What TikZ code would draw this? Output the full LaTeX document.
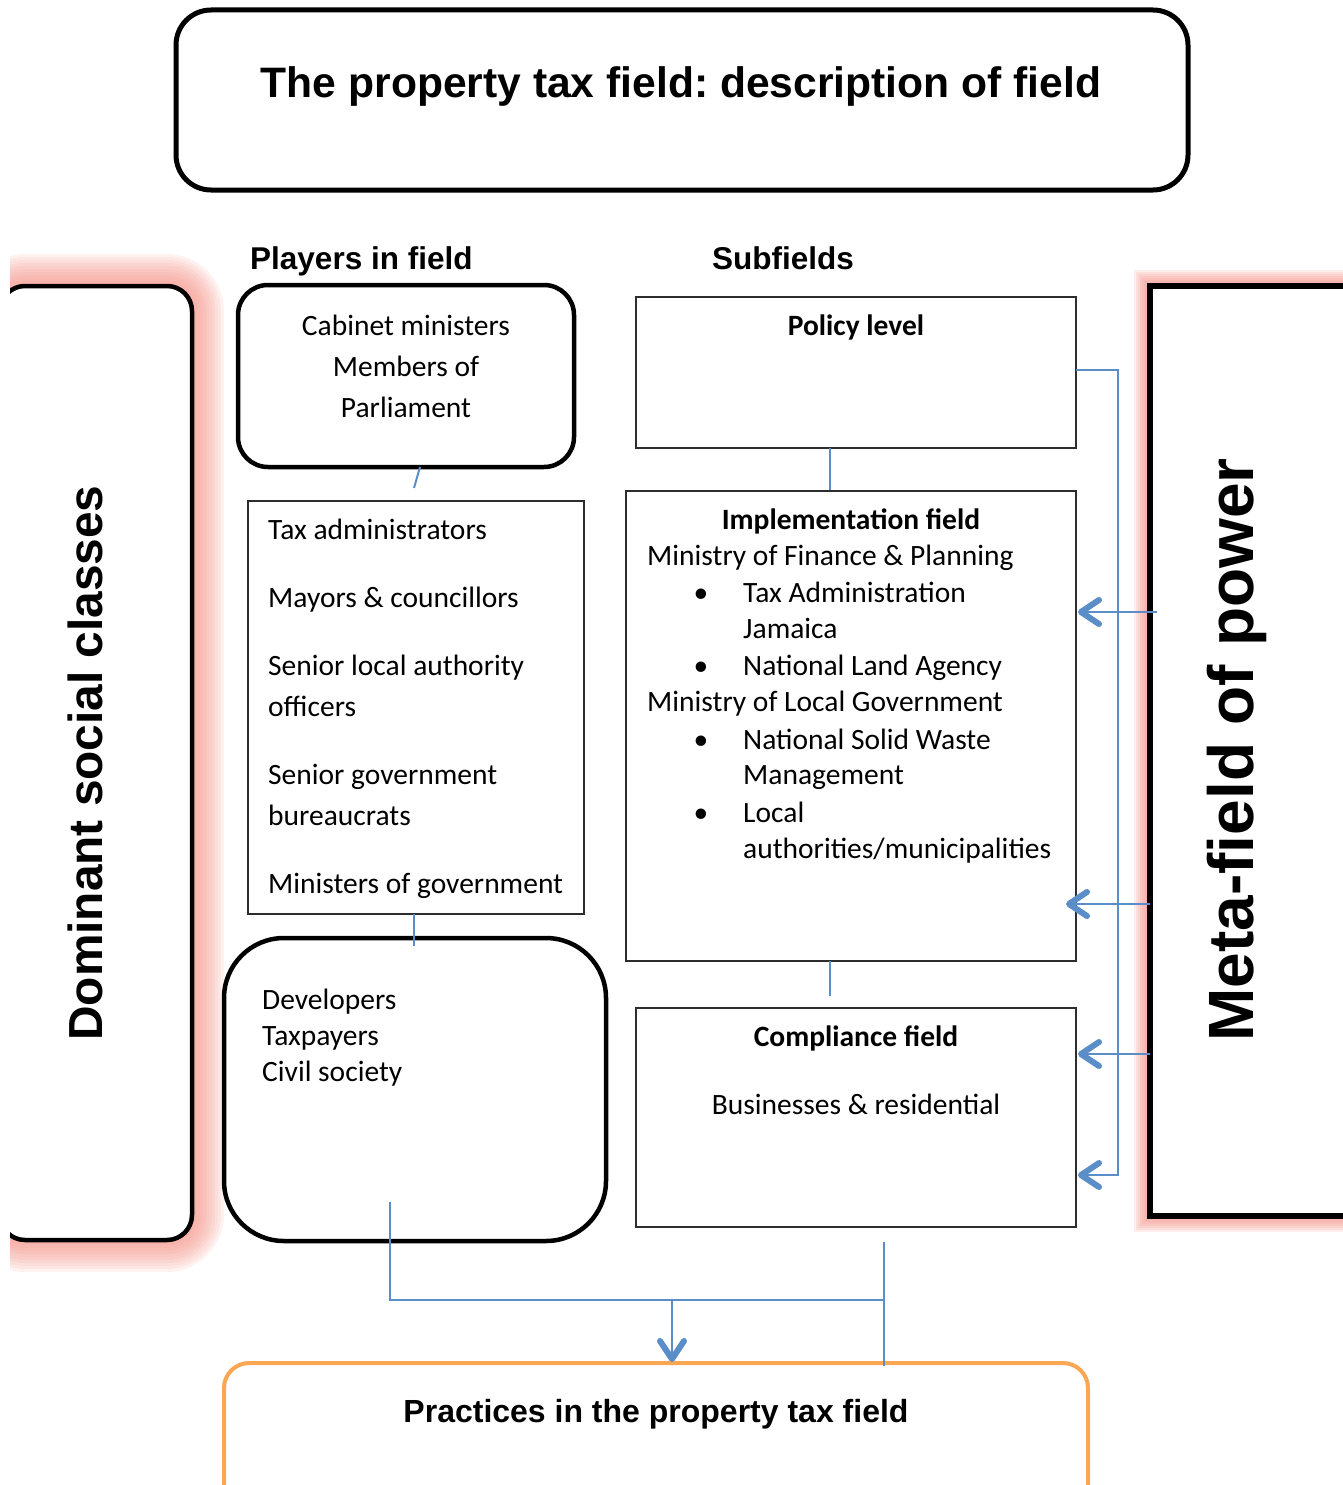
\documentclass[tikz,border=0pt]{standalone}
\usepackage{fontspec}
\setmainfont{Carlito}
\newfontfamily\hd{Liberation Sans}
\usetikzlibrary{arrows.meta}
\definecolor{lnblue}{RGB}{91,141,200}
\definecolor{glowpink}{RGB}{245,151,140}
\definecolor{orangeln}{RGB}{250,166,82}
\definecolor{thinln}{RGB}{45,45,45}
\newcommand\mybody{\fontsize{29.5}{35}\selectfont}
\frenchspacing
\begin{document}
\begin{tikzpicture}[x=1pt,y=-1pt,
  bigbox/.style={draw=black, line width=4.5pt, rounded corners=#1, fill=white, inner sep=0pt},
  bigbox/.default=30pt,
  thinbox/.style={draw=thinln, line width=1.3pt, fill=white, inner sep=0pt},
  body/.style={font=\mybody, inner sep=0pt},
  bodyb/.style={font=\mybody\bfseries, inner sep=0pt},
  head/.style={font=\hd\bfseries\fontsize{31.5}{38}\selectfont, inner sep=0pt},
  conn/.style={draw=lnblue, line width=2pt},
  barbtip/.pic={\draw[lnblue, line width=6pt, line cap=round, line join=round] (-19,-12) -- (-1,0) -- (-19,12);},
  bul/.style={font=\mybody, inner sep=0pt, anchor=base}
]
\useasboundingbox (0,0) rectangle (1343,1485);

% ---------- glows ----------
\begin{scope}
\clip (10,0) rectangle (1343,1485);
\foreach \d in {32,29,...,2}
  \fill[glowpink, opacity=0.12, rounded corners=25pt+\d pt] (0-\d,286-\d) rectangle (192+\d,1240+\d);
\node[bigbox=25pt, minimum width=192pt, minimum height=954pt] (dom) at (96,763) {};
\node[rotate=90, anchor=base, font=\hd\bfseries\fontsize{47.8}{56}\selectfont, inner sep=0pt] (domtxt) at (102,763) {Dominant social classes};
\end{scope}

\foreach \d in {16,14,...,2}
  \fill[glowpink, opacity=0.17] (1150-\d,286-\d) rectangle (1360+\d,1216+\d);
\node[draw=black, line width=6pt, fill=white, minimum width=210pt, minimum height=930pt, inner sep=0pt] (meta) at (1255,751) {};
\node[rotate=90, anchor=base, font=\hd\bfseries\fontsize{64}{72}\selectfont, inner sep=0pt] (metatxt) at (1253,750) {Meta-field of power};

% ---------- title ----------
\node[bigbox=35pt, line width=5pt, minimum width=1012pt, minimum height=180pt] (title) at (682,100) {};
\node[anchor=base, font=\hd\bfseries\fontsize{42.6}{50}\selectfont, inner sep=0pt] (titletxt) at (681,98) {The property tax field: description of field};

% ---------- headers ----------
\node[head, anchor=base west] (playh) at (250,269) {Players in field};
\node[head, anchor=base west] (subh) at (712,269) {Subfields};

% ---------- players column ----------
\node[bigbox=30pt, minimum width=336pt, minimum height=182pt] (cab) at (406,376) {};
\node[body, anchor=base] (cab1) at (406,335) {Cabinet ministers};
\node[body, anchor=base] (cab2) at (406,376) {Members of};
\node[body, anchor=base] (cab3) at (406,417) {Parliament};

\node[thinbox, minimum width=336pt, minimum height=413pt] (play) at (416,707.5) {};
\node[body, anchor=base west] (p1) at (268,539) {Tax administrators};
\node[body, anchor=base west] (p2) at (268,607) {Mayors \& councillors};
\node[body, anchor=base west] (p3) at (268,675) {Senior local authority};
\node[body, anchor=base west] (p4) at (268,716) {officers};
\node[body, anchor=base west] (p5) at (268,784) {Senior government};
\node[body, anchor=base west] (p6) at (268,825) {bureaucrats};
\node[body, anchor=base west] (p7) at (268,893) {Ministers of government};

\node[bigbox=60pt, minimum width=382pt, minimum height=303pt] (dev) at (415,1089.5) {};
\node[body, anchor=base west] (d1) at (262,1009) {Developers};
\node[body, anchor=base west] (d2) at (262,1045) {Taxpayers};
\node[body, anchor=base west] (d3) at (262,1081) {Civil society};

% ---------- subfields column ----------
\node[thinbox, minimum width=440pt, minimum height=151pt] (pol) at (856,372.5) {};
\node[bodyb, anchor=base] (poltxt) at (856,335) {Policy level};

\node[thinbox, minimum width=450pt, minimum height=470pt] (impl) at (851,726) {};
\node[bodyb, anchor=base] (i0) at (851,529) {Implementation field};
\node[body, anchor=base west] (i1) at (647,565) {Ministry of Finance \& Planning};
\node[bul] (b1) at (701,602) {\textbullet};
\node[body, anchor=base west] (i2) at (743,602) {Tax Administration};
\node[body, anchor=base west] (i3) at (743,638) {Jamaica};
\node[bul] (b2) at (701,675) {\textbullet};
\node[body, anchor=base west] (i4) at (743,675) {National Land Agency};
\node[body, anchor=base west] (i5) at (647,711) {Ministry of Local Government};
\node[bul] (b3) at (701,749) {\textbullet};
\node[body, anchor=base west] (i6) at (743,749) {National Solid Waste};
\node[body, anchor=base west] (i7) at (743,784) {Management};
\node[bul] (b4) at (701,822) {\textbullet};
\node[body, anchor=base west] (i8) at (743,822) {Local};
\node[body, anchor=base west] (i9) at (743,858) {authorities/municipalities};

\node[thinbox, minimum width=440pt, minimum height=219pt] (comp) at (856,1117.5) {};
\node[bodyb, anchor=base] (c0) at (856,1046) {Compliance field};
\node[body, anchor=base] (c1) at (856,1114) {Businesses \& residential};

% ---------- practices ----------
\node[draw=orangeln, line width=4pt, rounded corners=25pt, minimum width=864pt, minimum height=160pt, inner sep=0pt] (prac) at (656,1443) {};
\node[anchor=base, font=\hd\bfseries\fontsize{32}{38}\selectfont, inner sep=0pt] (practxt) at (656,1422) {Practices in the property tax field};

% ---------- connectors ----------
\coordinate (k1) at (420,467);
\coordinate (k2) at (414,488);
\draw[conn] (k1) -- (k2);
\coordinate (k3) at (414,914);
\coordinate (k4) at (414,946);
\draw[conn] (k3) -- (k4);
\coordinate (k5) at (830,448);
\coordinate (k6) at (830,490);
\draw[conn] (k5) -- (k6);
\coordinate (k7) at (830,961);
\coordinate (k8) at (830,996);
\draw[conn] (k7) -- (k8);

\coordinate (r0) at (1076,370);
\coordinate (r1) at (1118,370);
\coordinate (r2) at (1118,1175);
\coordinate (r3) at (1080,1175);
\draw[conn] (r0) -- (r1) -- (r2) -- (r3);
\pic[rotate=180] at (r3) {barbtip};

\coordinate (m1s) at (1157,612);
\coordinate (m1e) at (1080,612);
\draw[conn] (m1s) -- (m1e);
\pic[rotate=180] at (m1e) {barbtip};
\coordinate (m2s) at (1150,904);
\coordinate (m2e) at (1068,904);
\draw[conn] (m2s) -- (m2e);
\pic[rotate=180] at (m2e) {barbtip};
\coordinate (m3s) at (1150,1054);
\coordinate (m3e) at (1080,1054);
\draw[conn] (m3s) -- (m3e);
\pic[rotate=180] at (m3e) {barbtip};

\coordinate (q1) at (390,1202);
\coordinate (q2) at (390,1300);
\coordinate (q3) at (884,1300);
\coordinate (q4) at (884,1242);
\coordinate (q5) at (884,1366);
\draw[conn] (q1) -- (q2) -- (q3);
\draw[conn] (q4) -- (q5);
\coordinate (q6) at (672,1300);
\coordinate (q7) at (672,1360);
\draw[conn] (q6) -- (q7);
\pic[rotate=-90] at (q7) {barbtip};
\end{tikzpicture}
\end{document}
